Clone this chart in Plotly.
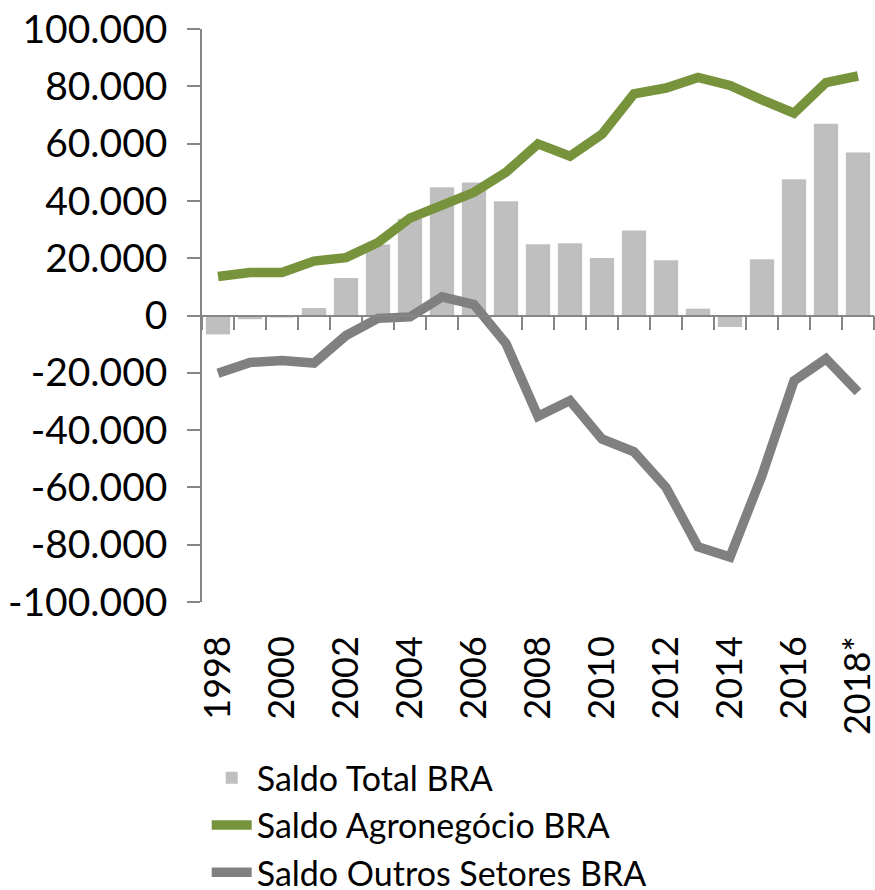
import plotly.graph_objects as go

# dados (US$ milhões)
anos = ["1998", "1999", "2000", "2001", "2002", "2003", "2004", "2005", "2006", "2007",
        "2008", "2009", "2010", "2011", "2012", "2013", "2014", "2015", "2016", "2017", "2018*"]
saldo_total = [-6600, -1300, -700, 2600, 13100, 24800, 33800, 44800, 46400, 39900,
               24900, 25200, 20100, 29700, 19300, 2400, -4000, 19600, 47600, 66900, 56900]
saldo_agro = [13600, 15000, 15000, 19000, 20200, 25500, 34000, 38700, 43000, 50000,
              59900, 55600, 63300, 77400, 79400, 83100, 80300, 75300, 70600, 81300, 83600]
saldo_outros = [-20200, -16400, -15700, -16600, -7000, -1000, -500, 6500, 3800, -9800,
                -35200, -29700, -43100, -47600, -60000, -80700, -84300, -55800, -22800, -15100, -26700]
y_ticks = [-100000, -80000, -60000, -40000, -20000, 0, 20000, 40000, 60000, 80000, 100000]
y_labels = ["-100.000", "-80.000", "-60.000", "-40.000", "-20.000", "0",
            "20.000", "40.000", "60.000", "80.000", "100.000"]
x_labels = [a if i % 2 == 0 else "" for i, a in enumerate(anos)]

axis_gray = "#868686"
font_name = "Lato"

fig = go.Figure()
fig.add_trace(go.Bar(x=anos, y=saldo_total, name="Saldo Total BRA",
                     marker=dict(color="#BFBFBF", line=dict(width=0)),
                     xaxis="x", yaxis="y"))
fig.add_trace(go.Scatter(x=anos, y=saldo_agro, name="Saldo Agronegócio BRA", mode="lines",
                         line=dict(color="#77933C", width=9.5),
                         xaxis="x2", yaxis="y"))
fig.add_trace(go.Scatter(x=anos, y=saldo_outros, name="Saldo Outros Setores BRA", mode="lines",
                         line=dict(color="#808080", width=9.5),
                         xaxis="x2", yaxis="y"))

fig.update_layout(
    width=875, height=890,
    margin=dict(l=202, r=1, t=29, b=288, autoexpand=False),
    plot_bgcolor="white", paper_bgcolor="white",
    font=dict(family=font_name, size=36, color="black"),
    bargap=0.24,
    showlegend=True,
    legend=dict(orientation="v", x=0.007, xanchor="left", y=-0.257, yanchor="top",
                font=dict(size=34), itemwidth=40, tracegroupgap=0,
                bgcolor="rgba(0,0,0,0)"),
    xaxis=dict(type="category", categoryorder="array", categoryarray=anos,
               tickmode="array", tickvals=anos, ticktext=x_labels,
               tickangle=-90, ticks="", showline=False, showgrid=False, zeroline=False,
               ticklabelstandoff=26, tickfont=dict(size=36), automargin=False),
    xaxis2=dict(type="category", categoryorder="array", categoryarray=anos,
                matches="x", overlaying="x", anchor="free", position=0.5,
                showticklabels=False, ticks="outside", tickson="boundaries",
                ticklen=14, tickcolor=axis_gray, tickwidth=1.5,
                showline=True, linecolor=axis_gray, linewidth=1.5, showgrid=False, zeroline=False,
                automargin=False),
    yaxis=dict(range=[-100000, 100000], tickmode="array", tickvals=y_ticks, ticktext=y_labels,
               ticks="outside", ticklen=13, tickcolor=axis_gray, tickwidth=1.5,
               showline=True, linecolor=axis_gray, linewidth=1.5, ticklabelstandoff=12,
               showgrid=False, zeroline=False, tickfont=dict(size=39), automargin=False),
)

fig.write_html("out.html", config={"displayModeBar": False},
               post_script="document.body.style.margin='0';")
